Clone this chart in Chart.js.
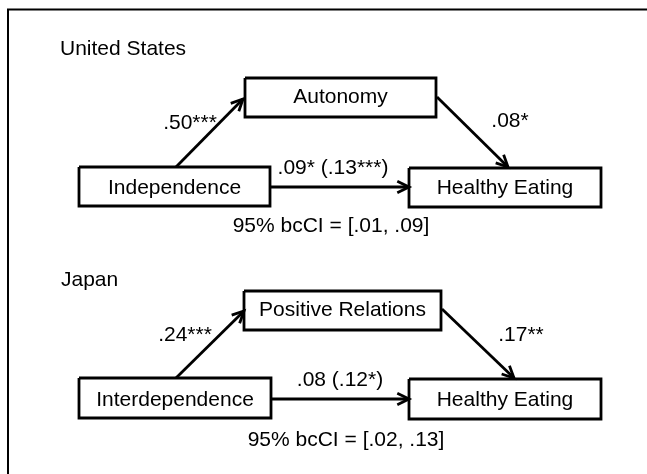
<!DOCTYPE html>
<html>
<head>
<meta charset="utf-8">
<script src="https://cdn.jsdelivr.net/npm/chart.js@4.4.1/dist/chart.umd.min.js"></script>
<style>
    html, body { margin: 0; padding: 0; background: #fff; }
    canvas { display: block; }
</style>
</head>
<body>
<canvas id="chartMediacion" width="647" height="474"></canvas>
<script>
// datos del diagrama (lo que se lee en la figura)
const paises = ['United States', 'Japan']
const predictores = ['Independence', 'Interdependence']
const mediadores = ['Autonomy', 'Positive Relations']
const resultados = ['Healthy Eating', 'Healthy Eating']
const caminoA = ['.50***', '.24***']
const caminoB = ['.08*', '.17**']
const caminoC = ['.09* (.13***)', '.08 (.12*)']
const intervalos = ['95% bcCI = [.01, .09]', '95% bcCI = [.02, .13]']

// posiciones en unidades del eje (0..647 x 0..474)
const layout = [
    {
        titulo: [60, 55],
        med: [245, 78, 436, 117], medTxt: 103,
        pred: [79, 167, 270, 206], predTxt: 194,
        res: [409, 168, 601, 207], resTxt: 194,
        a: [176, 167, 243, 99], b: [437, 97, 508, 167], c: [270, 187, 409, 187],
        aLbl: [190, 129], bLbl: [510, 127], cLbl: [333, 174], ci: [331, 232]
    },
    {
        titulo: [61, 286],
        med: [244, 291, 441, 330], medTxt: 316,
        pred: [79, 378, 271, 418], predTxt: 406,
        res: [409, 379, 601, 419], resTxt: 406,
        a: [176, 378, 244, 311], b: [442, 309, 514, 378], c: [271, 399, 409, 399],
        aLbl: [185, 341], bLbl: [521, 341], cLbl: [340, 386], ci: [346, 446]
    }
]

const FUENTE = '21px "Liberation Sans", Arial, sans-serif'
const GROSOR = 2.8

const caja = (r) => [
    { x: r[0], y: r[1] }, { x: r[2], y: r[1] }, { x: r[2], y: r[3] },
    { x: r[0], y: r[3] }, { x: r[0], y: r[1] }
]
const flecha = (f) => [{ x: f[0], y: f[1] }, { x: f[2], y: f[3] }]

const linea = (data) => ({
    data,
    showLine: true,
    borderColor: '#000',
    borderWidth: GROSOR,
    borderJoinStyle: 'miter',
    pointRadius: 0,
    fill: false,
    tension: 0,
    clip: false
})

const datasets = [linea([{ x: 8, y: 490 }, { x: 8, y: 9.5 }, { x: 660, y: 9.5 }])]
datasets[0].borderWidth = 2
layout.forEach(p => {
    datasets.push(linea(caja(p.med)), linea(caja(p.pred)), linea(caja(p.res)))
    datasets.push(linea(flecha(p.a)), linea(flecha(p.b)), linea(flecha(p.c)))
})

const textos = {
    id: 'textos',
    afterDatasetsDraw(chart) {
        const ctx = chart.ctx
        const sx = chart.scales.x
        const sy = chart.scales.y
        const px = v => sx.getPixelForValue(v)
        const py = v => sy.getPixelForValue(v)

        ctx.save()
        ctx.fillStyle = '#000'
        ctx.strokeStyle = '#000'
        ctx.lineWidth = GROSOR
        ctx.font = FUENTE
        ctx.textBaseline = 'alphabetic'

        const escribir = (txt, x, y, align) => {
            ctx.textAlign = align || 'center'
            ctx.fillText(txt, px(x), py(y))
        }
        const punta = (f) => {
            const x0 = px(f[0]), y0 = py(f[1]), x1 = px(f[2]), y1 = py(f[3])
            const ang = Math.atan2(y1 - y0, x1 - x0)
            const largo = 13
            const abre = 0.45
            ctx.beginPath()
            ctx.moveTo(x1 - largo * Math.cos(ang - abre), y1 - largo * Math.sin(ang - abre))
            ctx.lineTo(x1, y1)
            ctx.lineTo(x1 - largo * Math.cos(ang + abre), y1 - largo * Math.sin(ang + abre))
            ctx.lineJoin = 'miter'
            ctx.stroke()
        }

        layout.forEach((p, i) => {
            escribir(paises[i], p.titulo[0], p.titulo[1], 'left')
            escribir(mediadores[i], (p.med[0] + p.med[2]) / 2, p.medTxt)
            escribir(predictores[i], (p.pred[0] + p.pred[2]) / 2, p.predTxt)
            escribir(resultados[i], (p.res[0] + p.res[2]) / 2, p.resTxt)
            escribir(caminoA[i], p.aLbl[0], p.aLbl[1])
            escribir(caminoB[i], p.bLbl[0], p.bLbl[1])
            escribir(caminoC[i], p.cLbl[0], p.cLbl[1])
            escribir(intervalos[i], p.ci[0], p.ci[1])
            punta(p.a)
            punta(p.b)
            punta(p.c)
        })
        ctx.restore()
    }
}

const canvas = document.getElementById('chartMediacion')
const context = canvas.getContext('2d')

const chartMediacion = new Chart(context, {
    type: 'scatter',
    data: { datasets },
    options: {
        responsive: false,
        animation: false,
        events: [],
        layout: { padding: 0 },
        plugins: {
            legend: { display: false },
            tooltip: { enabled: false },
            title: { display: false }
        },
        scales: {
            x: { type: 'linear', min: 0, max: 647, display: false },
            y: { type: 'linear', min: 0, max: 474, reverse: true, display: false }
        }
    },
    plugins: [textos]
})
</script>
</body>
</html>
